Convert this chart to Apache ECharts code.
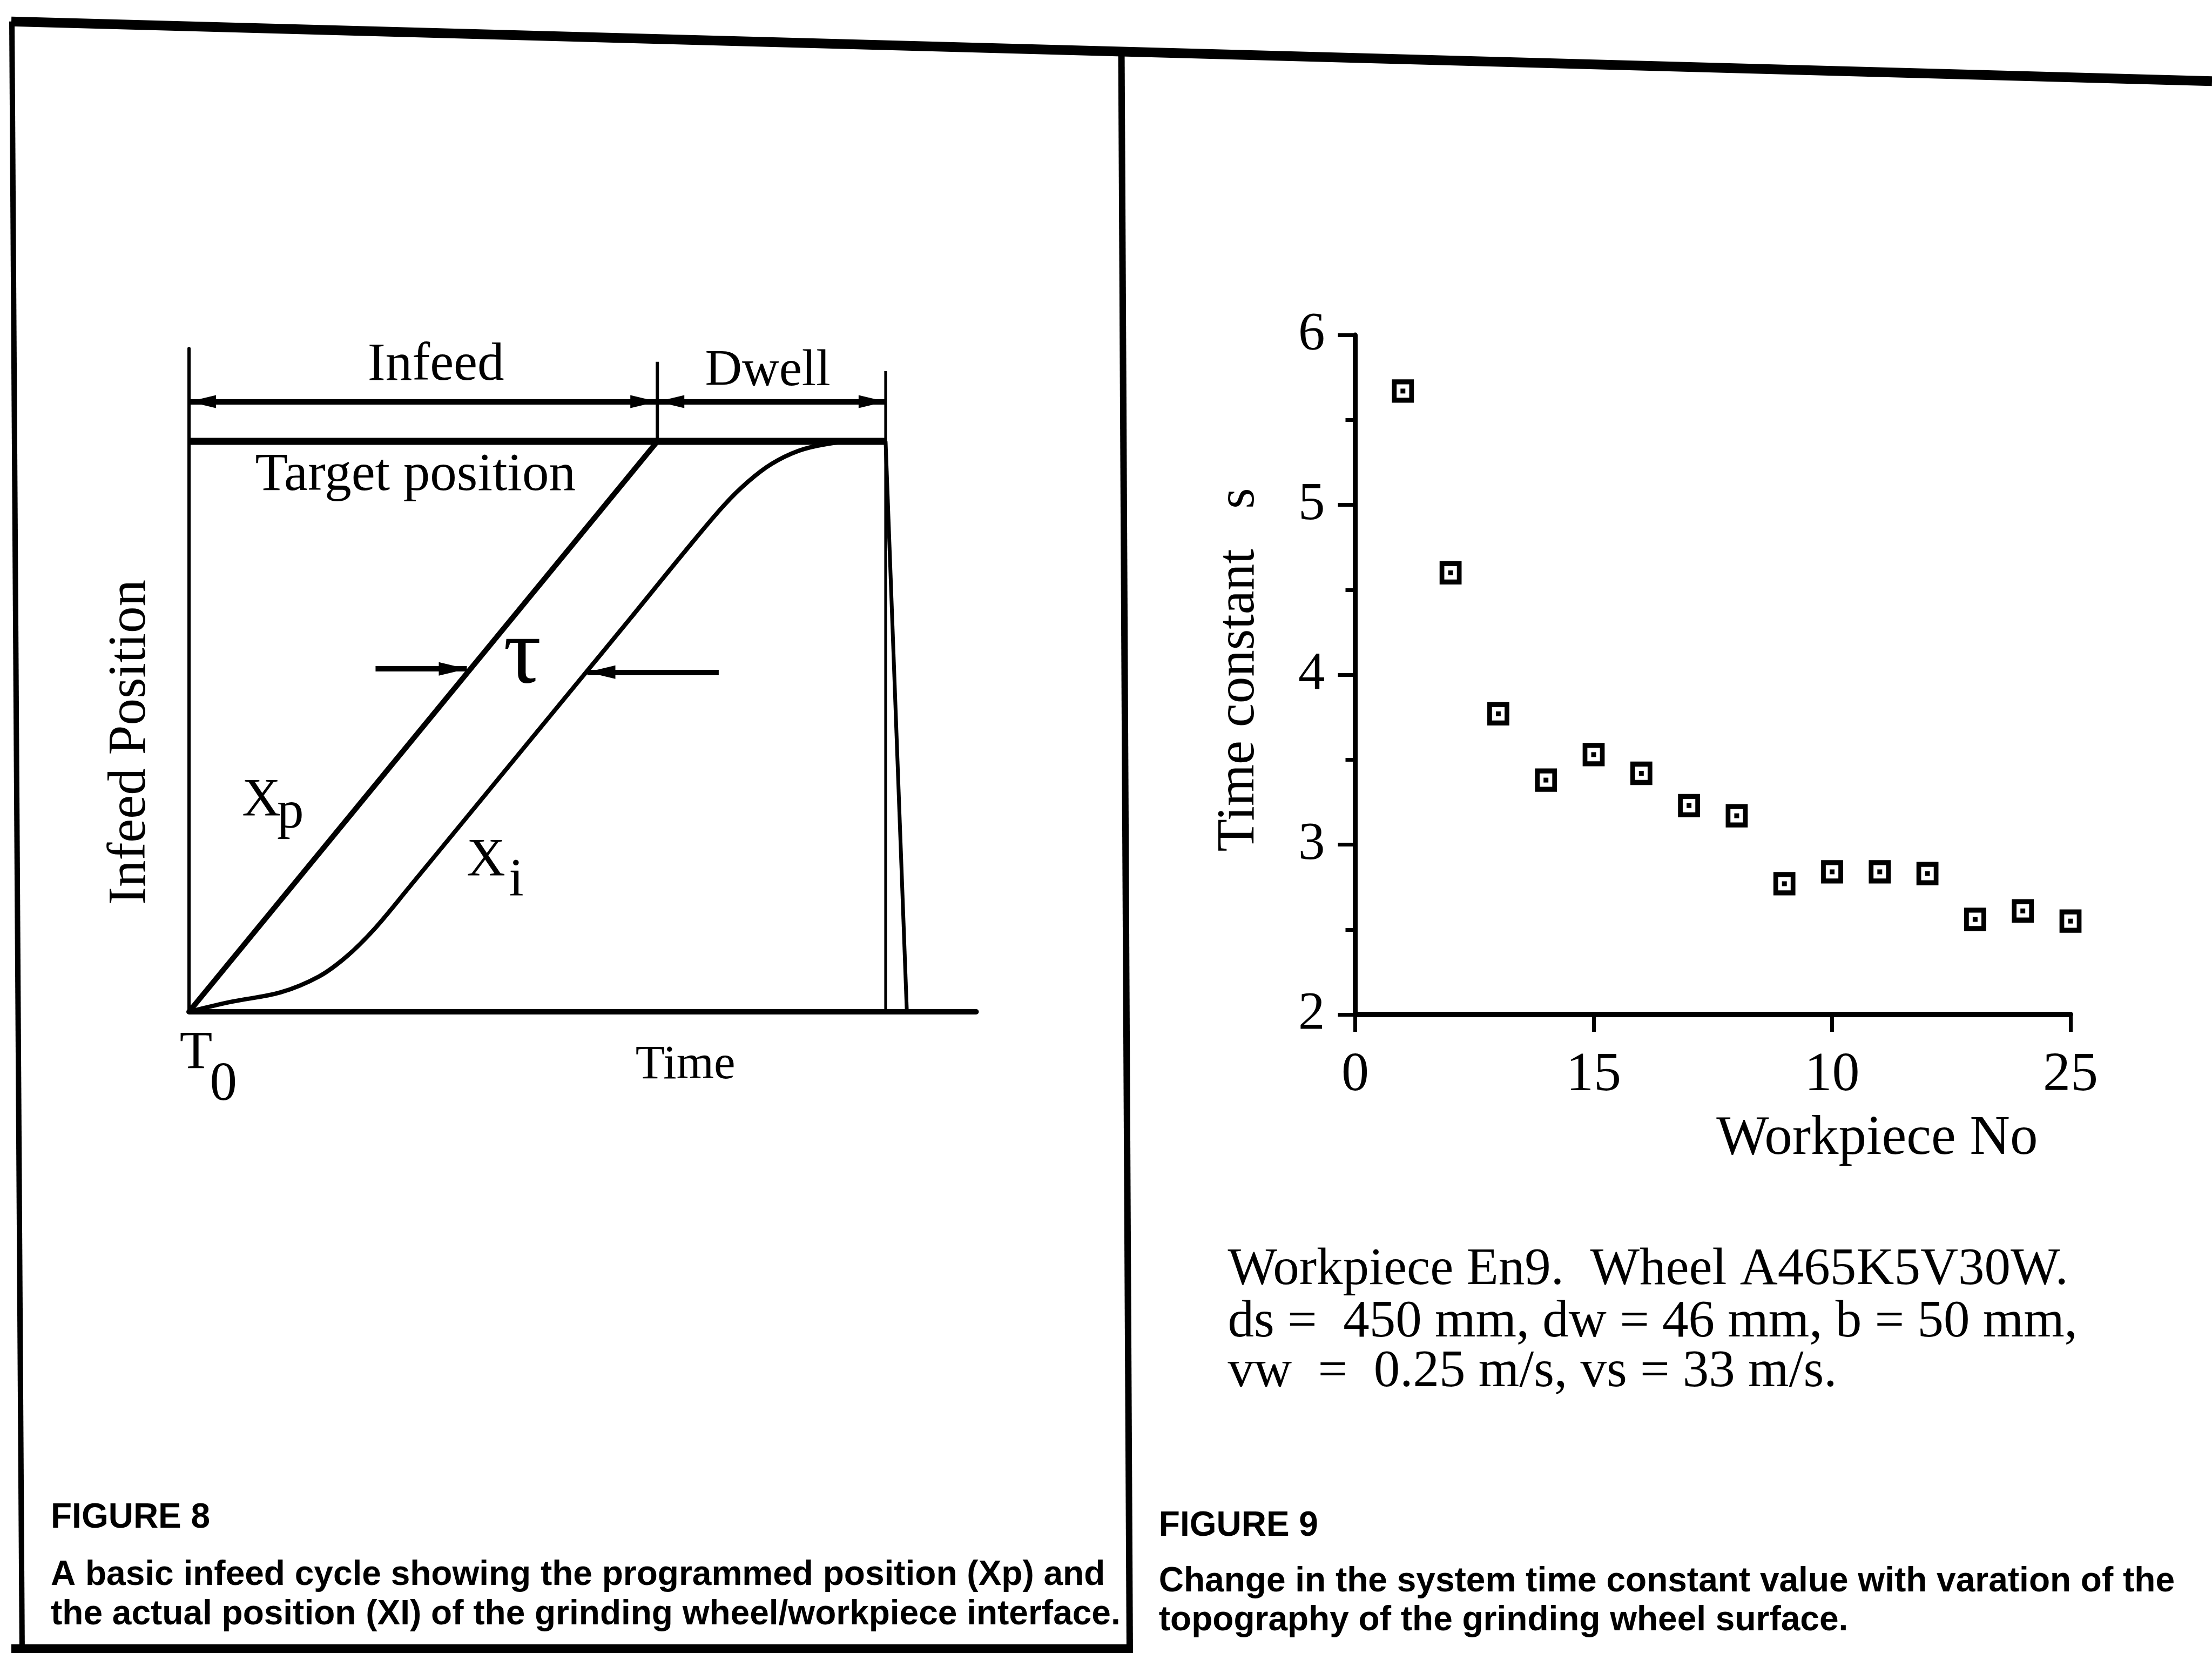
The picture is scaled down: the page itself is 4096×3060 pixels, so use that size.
<!DOCTYPE html>
<html>
<head>
<meta charset="utf-8">
<title>Infeed cycle and system time constant</title>
<script src="https://cdn.jsdelivr.net/npm/echarts@6/dist/echarts.min.js"></script>
<style>
  html, body { margin: 0; padding: 0; background: #fff; }
  #chart { width: 4096px; height: 3060px; }
</style>
</head>
<body>
<div id="chart"></div>
<script>
// ---------- Figure 8: basic infeed cycle (schematic, arbitrary units 0-100) ----------
const infeedEnd = 59.5;     // end of the infeed ramp
const dwellEnd = 88.5;      // end of the dwell period
const retractEnd = 91.2;    // wheel back at the start position
const targetPos = 86;       // target position level
const dimLevel = 92;        // height of the Infeed / Dwell dimension line
const dividerTop = 98;      // top of the infeed/dwell divider mark
const dwellMarkTop = 96.6;  // top of the dwell-end mark

// programmed position Xp
const xpTime = [0, 59.5];
const xpPos = [0, 86];

// actual position Xi
const xiTime = [0, 5.4, 11.6, 16.5, 20, 23.5, 28, 35, 42, 49, 56, 63, 68, 71, 74, 77.5, 81, 84.5, 88.5];
const xiPos = [0, 1.5, 2.9, 5.3, 8.3, 12.4, 18.8, 28.9, 39.0, 49.1, 59.2, 69.4, 76.4, 79.9, 82.6, 84.6, 85.6, 86, 86];

// lag arrows around tau: [tail time, tip time, level]
const tauLeftArrow = [23.7, 35.3, 51.7];
const tauRightArrow = [67.3, 50.6, 51.2];

// ---------- Figure 9: system time constant per workpiece ----------
const workpieceNo = [1, 2, 3, 4, 5, 6, 7, 8, 9, 10, 11, 12, 13, 14, 15];
const timeConstant = [5.67, 4.60, 3.77, 3.38, 3.53, 3.42, 3.23, 3.17, 2.77, 2.84, 2.84, 2.83, 2.56, 2.61, 2.55];
const xTickValues = [0, 5, 10, 15];
const xTickLabels = ['0', '15', '10', '25'];
const yTickValues = [2, 3, 4, 5, 6];
const yTickLabels = ['2', '3', '4', '5', '6'];

const SERIF = 'Liberation Serif';
const SANS = 'Liberation Sans';
const BLACK = '#000';

function pairs(xs, ys) { return xs.map((x, i) => [x, ys[i]]); }

function txt(text, x, y, size, opt) {
  opt = opt || {};
  const align = opt.align || 'center';
  return {
    type: 'text', x: x, y: y, rotation: opt.rotation || 0, silent: true, z: 10,
    style: {
      text: text, x: 0, y: 0, fill: BLACK,
      fontSize: size, fontFamily: opt.family || SERIF, fontWeight: opt.weight || 'normal',
      align: align, verticalAlign: 'middle', textAlign: align, textVerticalAlign: 'middle'
    }
  };
}

function rule(x1, y1, x2, y2, w) {
  return { type: 'line', silent: true, z: 10, shape: { x1, y1, x2, y2 }, style: { stroke: BLACK, lineWidth: w } };
}

function arrowEnd(coord) {
  return { coord: coord, symbol: 'triangle', symbolSize: [24, 50], symbolOffset: [0, 25] };
}
function plainEnd(coord) {
  return { coord: coord, symbol: 'none' };
}

const lineBase = {
  type: 'line', xAxisIndex: 0, yAxisIndex: 0, symbol: 'none', silent: true,
  animation: false, emphasis: { disabled: true }
};

const hiddenAxisParts = {
  axisTick: { show: false }, axisLabel: { show: false }, splitLine: { show: false }
};

const chart = echarts.init(document.getElementById('chart'), null, { renderer: 'canvas' });

chart.setOption({
  animation: false,
  backgroundColor: '#fff',
  textStyle: { fontFamily: SERIF, color: BLACK },
  grid: [
    { left: 350, top: 645.2, width: 1457.5, height: 1227.6, outerBoundsMode: 'none' },
    { left: 2509.5, top: 620.1, width: 1324.5, height: 1258, outerBoundsMode: 'none' }
  ],
  xAxis: [
    Object.assign({
      gridIndex: 0, type: 'value', min: 0, max: 100,
      axisLine: { show: true, onZero: false, lineStyle: { color: BLACK, width: 10 } }
    }, hiddenAxisParts),
    {
      gridIndex: 1, type: 'value', min: 0, max: 15, interval: 5,
      axisLine: { show: true, onZero: false, lineStyle: { color: BLACK, width: 10 } },
      axisTick: { show: true, inside: false, length: 32, lineStyle: { color: BLACK, width: 7 } },
      axisLabel: {
        show: true, margin: 62, color: BLACK, fontFamily: SERIF, fontSize: 102,
        formatter: v => xTickLabels[xTickValues.indexOf(v)]
      },
      splitLine: { show: false }
    }
  ],
  yAxis: [
    Object.assign({
      gridIndex: 0, type: 'value', min: 0, max: 100,
      axisLine: { show: true, onZero: false, lineStyle: { color: BLACK, width: 6 } }
    }, hiddenAxisParts),
    {
      gridIndex: 1, type: 'value', min: 2, max: 6, interval: 1,
      axisLine: { show: true, onZero: false, lineStyle: { color: BLACK, width: 9 } },
      axisTick: { show: true, inside: false, length: 32, lineStyle: { color: BLACK, width: 7 } },
      minorTick: { show: true, splitNumber: 2, length: 18, lineStyle: { color: BLACK, width: 7 } },
      axisLabel: {
        show: true, margin: 56, color: BLACK, fontFamily: SERIF, fontSize: 99,
        formatter: v => yTickLabels[yTickValues.indexOf(v)]
      },
      splitLine: { show: false },
      minorSplitLine: { show: false }
    }
  ],
  series: [
    Object.assign({}, lineBase, {
      name: 'Target position',
      data: [[0, targetPos], [dwellEnd, targetPos]],
      lineStyle: { color: BLACK, width: 13 },
      markLine: {
        silent: true, animation: false,
        label: { show: false },
        emphasis: { disabled: true },
        lineStyle: { color: BLACK, width: 10, type: 'solid' },
        data: [
          [arrowEnd([0, dimLevel]), arrowEnd([infeedEnd, dimLevel])],
          [arrowEnd([infeedEnd, dimLevel]), arrowEnd([dwellEnd, dimLevel])],
          [plainEnd([tauLeftArrow[0], tauLeftArrow[2]]),
           Object.assign(arrowEnd([tauLeftArrow[1], tauLeftArrow[2]]), { symbolSize: [25, 52], symbolOffset: [0, 26] })],
          [plainEnd([tauRightArrow[0], tauRightArrow[2]]),
           Object.assign(arrowEnd([tauRightArrow[1], tauRightArrow[2]]), { symbolSize: [25, 52], symbolOffset: [0, 26] })]
        ]
      }
    }),
    Object.assign({}, lineBase, {
      name: 'Xp', data: pairs(xpTime, xpPos),
      lineStyle: { color: BLACK, width: 10 }
    }),
    Object.assign({}, lineBase, {
      name: 'Xi', data: pairs(xiTime, xiPos), smooth: 0.35,
      lineStyle: { color: BLACK, width: 8 }
    }),
    Object.assign({}, lineBase, {
      name: 'Infeed/Dwell divider', data: [[infeedEnd, targetPos], [infeedEnd, dividerTop]],
      lineStyle: { color: BLACK, width: 6 }
    }),
    Object.assign({}, lineBase, {
      name: 'Dwell end', data: [[dwellEnd, 0], [dwellEnd, dwellMarkTop]],
      lineStyle: { color: BLACK, width: 5 }
    }),
    Object.assign({}, lineBase, {
      name: 'Retract', data: [[dwellEnd, targetPos], [retractEnd, 0]],
      lineStyle: { color: BLACK, width: 7 }
    }),
    {
      name: 'Time constant', type: 'scatter', xAxisIndex: 1, yAxisIndex: 1,
      data: pairs(workpieceNo, timeConstant),
      symbol: 'rect', symbolSize: [32, 34],
      itemStyle: { color: '#fff', borderColor: BLACK, borderWidth: 9, opacity: 1 },
      silent: true, z: 3, animation: false
    },
    {
      name: 'Time constant (centre)', type: 'scatter', xAxisIndex: 1, yAxisIndex: 1,
      data: pairs(workpieceNo, timeConstant),
      symbol: 'rect', symbolSize: 9,
      itemStyle: { color: BLACK, opacity: 1 },
      silent: true, z: 4, animation: false
    }
  ],
  graphic: {
    elements: [
      // page frame
      rule(21, 39.7, 4096, 150.2, 18),
      rule(22, 39.7, 41, 3060, 10),
      rule(2076.5, 94, 2092, 3060, 12),
      rule(21, 3052, 2092, 3052, 16),

      // Figure 8 labels
      txt('Infeed', 807.1, 676.5, 99),
      txt('Dwell', 1421.5, 688, 95),
      txt('Target position', 769.2, 881, 99),
      txt('\u03c4', 967.2, 1217.5, 175),
      txt('X', 448.2, 1483.1, 99, { align: 'left' }),
      txt('p', 513, 1506.3, 99, { align: 'left' }),
      txt('X', 899.9, 1593.9, 99),
      txt('i', 956, 1630.5, 99),
      txt('T', 363, 1951.4, 99),
      txt('0', 413.7, 2009.4, 101),
      txt('Time', 1269.2, 1973.1, 89),
      txt('Infeed Position', 241.6, 1374, 99, { rotation: Math.PI / 2 }),

      // Figure 9 labels
      txt('Time constant   s', 2294.7, 1240, 99, { rotation: Math.PI / 2 }),
      txt('Workpiece No', 3475.8, 2108.7, 103),
      txt('Workpiece En9.  Wheel A465K5V30W.', 2273.5, 2351.9, 97, { align: 'left' }),
      txt('ds =  450 mm, dw = 46 mm, b = 50 mm,', 2273.5, 2448.2, 97, { align: 'left' }),
      txt('vw  =  0.25 m/s, vs = 33 m/s.', 2273.5, 2540.9, 97, { align: 'left' }),

      // captions
      txt('FIGURE 8', 94, 2810.5, 64, { align: 'left', family: SANS, weight: 'bold' }),
      txt('A basic infeed cycle showing the programmed position (Xp) and', 94, 2916.3, 64, { align: 'left', family: SANS, weight: 'bold' }),
      txt('the actual position (XI) of the grinding wheel/workpiece interface.', 94, 2989.4, 64, { align: 'left', family: SANS, weight: 'bold' }),
      txt('FIGURE 9', 2145.8, 2825.1, 64, { align: 'left', family: SANS, weight: 'bold' }),
      txt('Change in the system time constant value with varation of the', 2145.8, 2928.6, 64, { align: 'left', family: SANS, weight: 'bold' }),
      txt('topography of the grinding wheel surface.', 2145.8, 3000.1, 64, { align: 'left', family: SANS, weight: 'bold' })
    ]
  }
});
</script>
</body>
</html>
